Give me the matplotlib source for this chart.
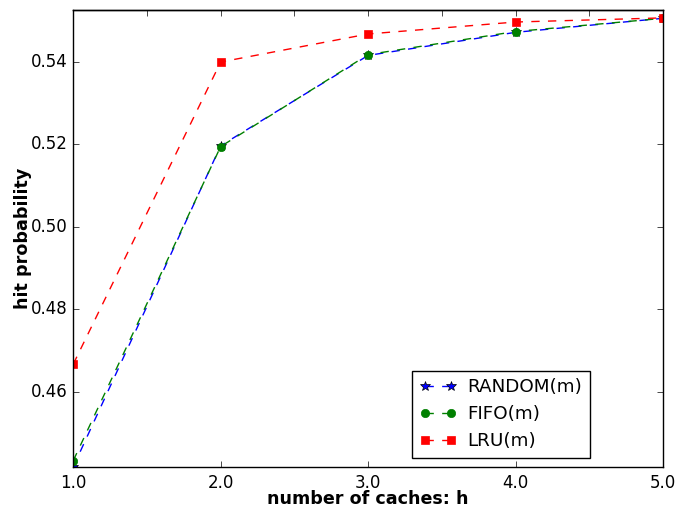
import numpy as np
import matplotlib
matplotlib.use("Agg")
import matplotlib.pyplot as plt

## ================= DATOS =================
caches = [1.0, 2.0, 3.0, 4.0, 5.0]
random_m = [0.4418, 0.5197, 0.5416, 0.5472, 0.5506]
fifo_m = [0.4433, 0.5195, 0.5418, 0.5474, 0.5506]
lru_m = [0.4667, 0.5400, 0.5468, 0.5497, 0.5507]

## ================= FIGURA =================
plt.style.use('classic')
fig = plt.figure(figsize=(6.78, 5.08), dpi=100, facecolor='white')
ax = fig.add_axes([0.108, 0.081, 0.870, 0.900])

ax.plot(caches, random_m, 'b--', marker='*', ms=7, mec='k', mew=0.5, lw=1, label='RANDOM(m)')
ax.plot(caches, fifo_m, 'g--', marker='o', ms=6, mec='g', lw=1, label='FIFO(m)')
ax.plot(caches, lru_m, 'r--', marker='s', ms=6, mec='r', lw=1, label='LRU(m)')

ax.set_xlim(1.0, 5.0)
ax.set_ylim(0.4418, 0.5527)
ax.set_xticks(caches)
ax.set_xticklabels(['%.1f' % c for c in caches])
ax.set_yticks([0.46, 0.48, 0.50, 0.52, 0.54])
ax.set_yticklabels(['0.46', '0.48', '0.50', '0.52', '0.54'])
ax.tick_params(axis='x', top=False, pad=5)

top = ax.secondary_xaxis('top')
top.set_xticks(np.arange(1.5, 5.0, 0.5))
top.tick_params(direction='in', labeltop=False, length=4)

ax.set_xlabel('number of caches: h', fontsize=12.6, fontweight='bold', labelpad=-1)
ax.set_ylabel('hit probability', fontsize=12.6, fontweight='bold', labelpad=-1)

ax.legend(loc='lower left', bbox_to_anchor=(0.575, 0.02), borderaxespad=0,
          numpoints=2, fontsize=13.2, labelspacing=0.5, handlelength=2.0,
          handletextpad=0.6, fancybox=False)

fig.savefig('out.png', dpi=100, facecolor='white')
